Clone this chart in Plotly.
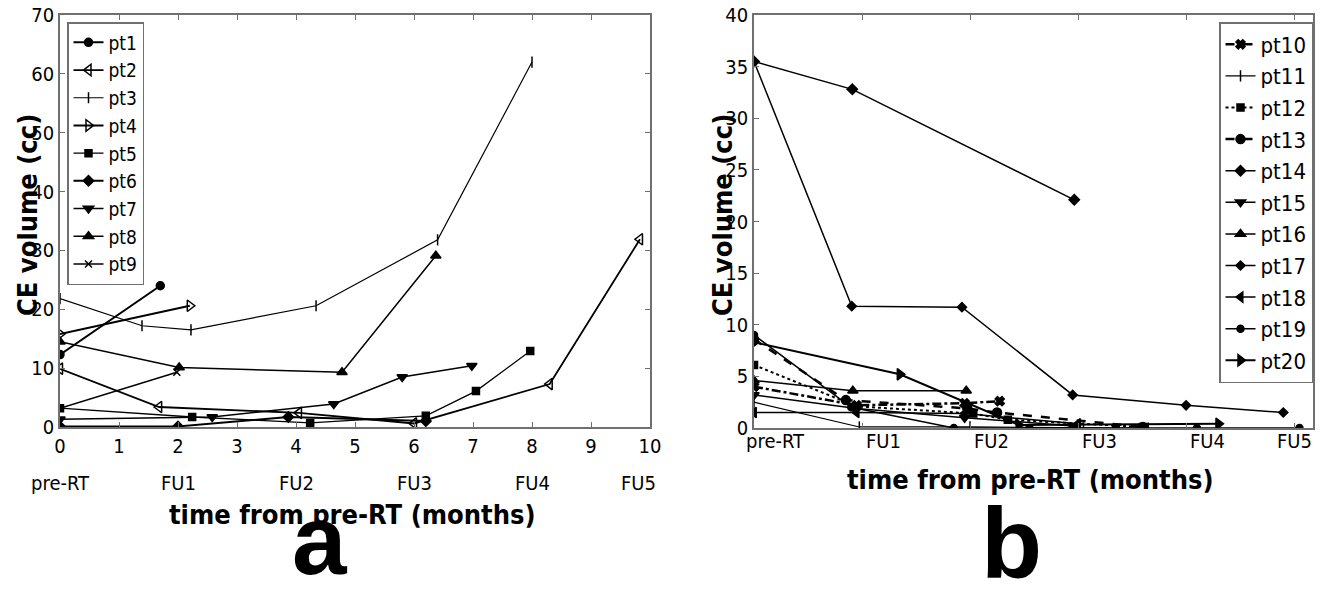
import plotly.graph_objects as go

# ---- panel a : patients 1-9 (time in months, CE volume in cc) ----
pt1_t = [0, 1.7]
pt1_v = [12.3, 24.0]
pt2_t = [0, 1.68, 4.05, 6.0, 8.3, 9.83]
pt2_v = [9.9, 3.4, 2.4, 0.6, 7.3, 31.9]
pt3_t = [0, 1.39, 2.22, 4.34, 6.4, 8.0]
pt3_v = [21.8, 17.2, 16.5, 20.6, 31.8, 62.0]
pt4_t = [0, 2.2]
pt4_v = [15.8, 20.6]
pt5_t = [0, 2.24, 4.24, 6.2, 7.05, 7.97]
pt5_v = [3.2, 1.7, 0.7, 1.9, 6.1, 12.9]
pt6_t = [0, 2.0, 3.87, 6.2]
pt6_v = [0.1, 0.1, 1.7, 1.0]
pt7_t = [0, 2.58, 4.64, 5.8, 6.98]
pt7_v = [1.3, 1.7, 3.9, 8.5, 10.4]
pt8_t = [0, 2.02, 4.78, 6.37]
pt8_v = [14.5, 10.1, 9.3, 29.1]
pt9_t = [0, 1.98]
pt9_v = [3.2, 9.3]

# ---- panel b : patients 10-20 ----
pt10_t = [0, 1.9, 3.9, 4.55]
pt10_v = [4.0, 2.2, 2.4, 2.6]
pt11_t = [0, 1.95, 4.0, 6.1, 7.3]
pt11_v = [2.5, 0.1, 0.1, 0.0, 0.0]
pt12_t = [0, 1.9, 4.06, 4.7, 7.2]
pt12_v = [6.1, 2.1, 1.4, 0.8, 0.1]
pt13_t = [0, 1.7, 3.95, 4.5, 7.2]
pt13_v = [8.6, 2.7, 1.9, 1.5, 0.1]
pt14_t = [0, 1.82, 5.93]
pt14_v = [35.5, 32.8, 22.1]
pt15_t = [0, 1.9, 3.9, 5.9]
pt15_v = [3.2, 1.9, 1.0, 0.2]
pt16_t = [0, 1.83, 3.93]
pt16_v = [4.6, 3.6, 3.6]
pt17_t = [0, 1.81, 3.85, 5.9, 8.0, 9.8]
pt17_v = [35.5, 11.8, 11.7, 3.2, 2.2, 1.5]
pt18_t = [0, 1.9, 3.9, 6.0]
pt18_v = [1.5, 1.5, 1.4, 0.4]
pt19_t = [0, 1.8, 3.7, 5.1, 6.7, 8.2, 10.1]
pt19_v = [9.0, 2.0, 0.0, 0.0, 0.0, 0.0, 0.0]
pt20_t = [0, 2.7, 4.9, 8.6]
pt20_v = [8.3, 5.2, 0.3, 0.4]

a_ticks = [0, 1, 2, 3, 4, 5, 6, 7, 8, 9, 10]
fu_pos = [0, 2, 4, 6, 8, 10]
fu_labels = ["pre-RT", "FU1", "FU2", "FU3", "FU4", "FU5"]

FONT = "Liberation Sans Narrow, Arial Narrow, DejaVu Sans Condensed, sans-serif"

fig = go.Figure()

def add(t, v, name, symbol, axes, legend, size=8, width=1.5, dash="solid"):
    fig.add_trace(go.Scatter(
        x=t, y=v, name=name, mode="lines+markers",
        xaxis=axes[0], yaxis=axes[1], legend=legend,
        line=dict(color="black", width=width, dash=dash),
        marker=dict(symbol=symbol, size=size, color="black",
                    line=dict(color="black", width=1.5)),
    ))

A = ("x", "y")
B = ("x2", "y2")
add(pt1_t, pt1_v, "pt1", "circle", A, "legend", 8, 2)
add(pt2_t, pt2_v, "pt2", "triangle-left-open", A, "legend", 10, 1.8)
add(pt3_t, pt3_v, "pt3", "line-ns", A, "legend", 8, 1.2)
add(pt4_t, pt4_v, "pt4", "triangle-right-open", A, "legend", 10, 2)
add(pt5_t, pt5_v, "pt5", "square", A, "legend", 7, 1.3)
add(pt6_t, pt6_v, "pt6", "diamond", A, "legend", 8, 2)
add(pt7_t, pt7_v, "pt7", "triangle-down", A, "legend", 9, 1.5)
add(pt8_t, pt8_v, "pt8", "triangle-up", A, "legend", 9, 1.5)
add(pt9_t, pt9_v, "pt9", "x-thin-open", A, "legend", 7, 1.5)

add(pt10_t, pt10_v, "pt10", "x", B, "legend2", 8, 2.5, "dashdot")
add(pt11_t, pt11_v, "pt11", "line-ns", B, "legend2", 8, 1.2)
add(pt12_t, pt12_v, "pt12", "square", B, "legend2", 7, 2, "dot")
add(pt13_t, pt13_v, "pt13", "circle", B, "legend2", 9, 2.5, "dash")
add(pt14_t, pt14_v, "pt14", "diamond", B, "legend2", 8, 1.5)
add(pt15_t, pt15_v, "pt15", "triangle-down", B, "legend2", 9, 1.5)
add(pt16_t, pt16_v, "pt16", "triangle-up", B, "legend2", 9, 1.5)
add(pt17_t, pt17_v, "pt17", "diamond", B, "legend2", 7, 1.5)
add(pt18_t, pt18_v, "pt18", "triangle-left", B, "legend2", 9, 1.5)
add(pt19_t, pt19_v, "pt19", "circle", B, "legend2", 7, 1.5)
add(pt20_t, pt20_v, "pt20", "triangle-right", B, "legend2", 10, 2)

W, H = 1326, 598
def px(x): return x / W
def py(y): return 1 - y / H

axis_style = dict(showline=True, mirror="ticks", linecolor="#707070", linewidth=1.5,
                  ticks="inside", ticklen=5, tickcolor="#707070", showgrid=False,
                  zeroline=False, tickfont=dict(family=FONT, size=20, color="black"))

fig.update_layout(
    width=W, height=H, margin=dict(l=0, r=0, t=0, b=0, autoexpand=False),
    plot_bgcolor="white", paper_bgcolor="white",
    font=dict(family=FONT, color="black"),
    xaxis=dict(domain=[px(60), px(650)], range=[0, 10], tickvals=a_ticks,
               ticktext=[str(t) for t in a_ticks], anchor="y", **axis_style),
    yaxis=dict(domain=[py(427), py(15)], range=[0, 70], dtick=10, anchor="x", **axis_style),
    xaxis2=dict(domain=[px(754), px(1313)], range=[0, 10.35], tickvals=fu_pos,
                showticklabels=False, anchor="y2", **axis_style),
    yaxis2=dict(domain=[py(428), py(15)], range=[0, 40], dtick=5, anchor="x2", **axis_style),
    legend=dict(x=px(67), y=py(22), xanchor="left", yanchor="top",
                bordercolor="#707070", borderwidth=1.5, bgcolor="white",
                font=dict(family=FONT, size=19), tracegroupgap=0, itemwidth=30),
    legend2=dict(x=px(1313), y=py(22), xanchor="right", yanchor="top",
                 bordercolor="#707070", borderwidth=1.5, bgcolor="white",
                 font=dict(family=FONT, size=22), tracegroupgap=0, itemwidth=30),
)

ann = []
for p, lab in zip(fu_pos, fu_labels):
    xa = p if p < 10 else 9.8
    ann.append(dict(x=xa, y=py(483), xref="x", yref="paper", text=lab, showarrow=False,
                    font=dict(family=FONT, size=20), xanchor="center", yanchor="middle"))
    xb = p + 0.4 if p < 10 else 10
    ann.append(dict(x=xb, y=py(441), xref="x2", yref="paper", text=lab, showarrow=False,
                    font=dict(family=FONT, size=20), xanchor="center", yanchor="middle"))

bold = dict(family=FONT, size=27, color="black")
ann += [
    dict(x=px(352), y=py(514), text="<b>time from pre-RT (months)</b>", font=bold),
    dict(x=px(1030), y=py(479), text="<b>time from pre-RT (months)</b>", font=bold),
    dict(x=px(27), y=py(215), textangle=-90, text="<b>CE volume (cc)</b>", font=bold),
    dict(x=px(722), y=py(215), textangle=-90, text="<b>CE volume (cc)</b>", font=bold),
    dict(x=px(320), y=py(540), text="<b>a</b>",
         font=dict(family="Liberation Sans, Arial, sans-serif", size=98)),
    dict(x=px(1012), y=py(543), text="<b>b</b>",
         font=dict(family="Liberation Sans, Arial, sans-serif", size=100)),
]
for a in ann[-6:]:
    a.update(xref="paper", yref="paper", showarrow=False, xanchor="center", yanchor="middle")
fig.update_layout(annotations=ann)

fig.write_html("out.html", config={"displayModeBar": False},
               post_script="document.body.style.margin='0px';")
